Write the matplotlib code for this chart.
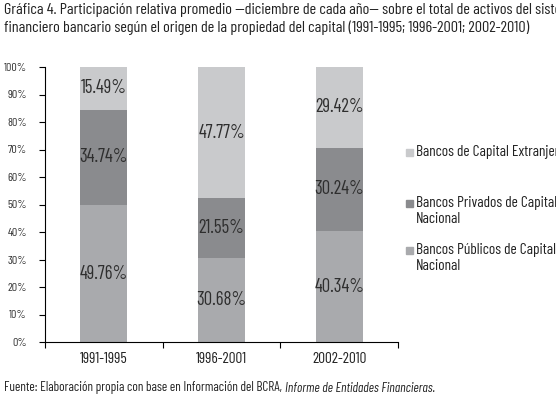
import matplotlib.pyplot as plt
import numpy as np
from matplotlib.font_manager import FontProperties
from matplotlib.textpath import TextPath

# Datos de la gráfica
periodos = ['1991-1995', '1996-2001', '2002-2010']
publicos = [49.76, 30.68, 40.34]
privados = [34.74, 21.55, 30.24]
extranjeros = [15.49, 47.77, 29.42]
series_labels = ['Bancos Públicos de Capital\nNacional',
                 'Bancos Privados de Capital\nNacional',
                 'Bancos de Capital Extranjero']
colores = ['#a9aaad', '#8a8b8e', '#c9cacc']
titulo_1 = 'Gráfica 4. Participación relativa promedio —diciembre de cada año— sobre el total de activos del sistema'
titulo_2 = 'financiero bancario según el origen de la propiedad del capital (1991-1995; 1996-2001; 2002-2010)'
fuente = 'Fuente: Elaboración propia con base en Información del BCRA,'
fuente_it = 'Informe de Entidades Financieras.'

familias = ['Barlow Condensed', 'Roboto Condensed', 'DejaVu Sans']
plt.rcParams['font.family'] = familias

W, H = 556, 399


def tam(s, px, style='normal'):
    # tamaño (pt) para que el texto mida px píxeles de ancho a 100 dpi
    fp = FontProperties(family=familias, style=style)
    w = TextPath((0, 0), s, size=10, prop=fp).get_extents().width
    return 10 * px / (w * 100 / 72)


fig = plt.figure(figsize=(W / 100, H / 100), dpi=100)
ax = fig.add_axes([45 / W, 1 - 342 / H, 353 / W, 275 / H])

fs_lab = tam('49.76%', 42) * 1.1
x = np.arange(len(periodos))
bottom = np.zeros(len(periodos))
for vals, col in zip([publicos, privados, extranjeros], colores):
    vals = np.array(vals)
    ax.bar(x, vals, 0.4, bottom=bottom, color=col, edgecolor='none')
    for xi, b, v in zip(x, bottom, vals):
        ax.text(xi, b + v / 2, f'{v:.2f}%', ha='center', va='center',
                fontsize=fs_lab, color='#2e2e2e')
    bottom += vals

ax.set_xlim(-0.5, 2.5)
ax.set_ylim(0, 100)
ax.set_yticks(np.arange(0, 101, 10))
ax.set_yticklabels([f'{t}%' for t in range(0, 101, 10)],
                   fontsize=tam('100%', 22), color='#333333')
ax.set_xticks([-0.5, 0.5, 1.5, 2.5])
ax.set_xticklabels([])
ax.set_xticks(x, minor=True)
ax.set_xticklabels(periodos, minor=True, fontsize=tam('1991-1995', 47), color='#222222')
ax.tick_params(axis='x', which='minor', length=0, pad=7)
ax.tick_params(axis='x', which='major', length=4, width=0.8)
ax.tick_params(axis='y', length=4, width=0.8, pad=9)
for s in ['top', 'right']:
    ax.spines[s].set_visible(False)
for s in ['left', 'bottom']:
    ax.spines[s].set_linewidth(0.8)

# Leyenda manual (orden inverso)
fs_leg = tam('Bancos de Capital Extranjero', 131) * 1.13
leg_y = [153, 204, 251]
for lab, col, yy in zip(series_labels[::-1], colores[::-1], leg_y):
    fig.patches.append(plt.Rectangle((406 / W, 1 - (yy + 3) / H), 7 / W, 7 / H,
                                     transform=fig.transFigure, color=col))
    fig.text(416 / W, 1 - (yy - 8) / H, lab, fontsize=fs_leg, va='top',
             color='#222222', linespacing=1.15)

fig.text(4 / W, 1 - 3 / H, titulo_1 + '\n' + titulo_2,
         fontsize=tam(titulo_1, 534) * 1.08, va='top', color='#222222', linespacing=1.3)

fs_src = tam(fuente, 273) * 1.02
src = fig.text(4 / W, 1 - 388 / H, fuente + ' ', fontsize=fs_src, va='center',
               color='#222222')
fig.canvas.draw()
bb = src.get_window_extent()
fig.text(bb.x1 / W, 1 - 388 / H, fuente_it, fontsize=fs_src, va='center',
         style='italic', color='#222222')

fig.savefig('out.png', dpi=100)
